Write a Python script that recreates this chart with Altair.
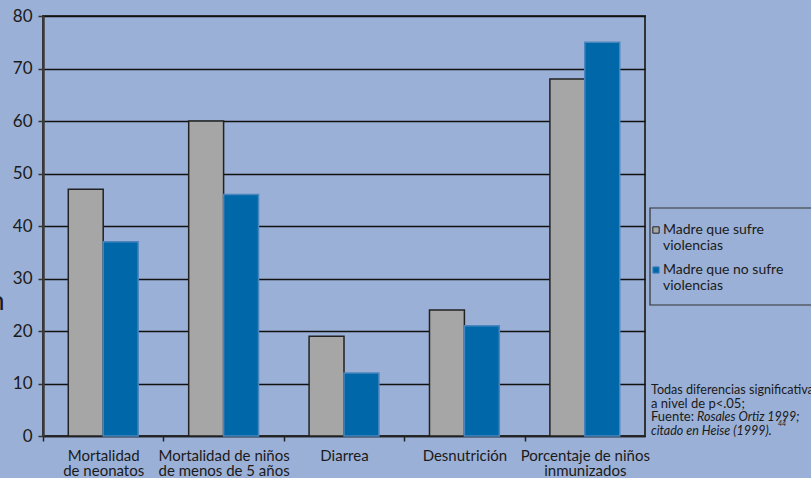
import altair as alt
import pandas as pd

categories = ["Mortalidad|de neonatos", "Mortalidad de niños|de menos de 5 años",
              "Diarrea", "Desnutrición", "Porcentaje de niños|inmunizados"]
madre_sufre = [47, 60, 19, 24, 68]
madre_no_sufre = [37, 46, 12, 21, 75]
series = ["Madre que sufre|violencias", "Madre que no sufre|violencias"]
y_ticks = [0, 10, 20, 30, 40, 50, 60, 70, 80]

rows = []
for c, a, b in zip(categories, madre_sufre, madre_no_sufre):
    rows.append({"cat": c, "serie": series[0], "val": a})
    rows.append({"cat": c, "serie": series[1], "val": b})
df = pd.DataFrame(rows)

FONT = "Lato"
BG = "#9bb0d6"

leg = dict(title=None, orient="none", legendX=606, legendY=207,
           labelExpr="split(datum.label, '|')",
           labelFontSize=14, labelFont=FONT, labelColor="#1a1a1a",
           labelLimit=200,
           symbolType="square", symbolSize=40, symbolStrokeWidth=1,
           strokeColor="transparent", padding=0, rowPadding=10,
           labelOffset=0)

bars = alt.Chart(df).mark_bar(strokeWidth=1.5).encode(
    x=alt.X("cat:N", sort=categories, title=None,
            scale=alt.Scale(paddingInner=0.42, paddingOuter=0.21),
            axis=alt.Axis(labelExpr="split(datum.label, '|')", labelAngle=0,
                          labelFontSize=15, labelColor="#1a1a1a", labelFont=FONT,
                          labelPadding=7, labelLineHeight=15.5,
                          domainColor="#222", domainWidth=1.5,
                          tickColor="#222", tickSize=5, tickWidth=1.5,
                          tickOffset=-60.2, labelOffset=60.2, grid=False)),
    xOffset=alt.XOffset("serie:N", sort=series, scale=alt.Scale(paddingInner=0, paddingOuter=0)),
    y=alt.Y("val:Q", title=None,
            scale=alt.Scale(domain=[0, 80], nice=False),
            axis=alt.Axis(values=y_ticks, labelFontSize=17, labelColor="#1a1a1a", labelFont=FONT,
                          labelPadding=6, tickSize=5, tickColor="#333", tickWidth=1.5,
                          domainColor="#3a3a3a", domainWidth=2.5,
                          grid=True, gridColor="#111", gridWidth=1.5)),
    color=alt.Color("serie:N", sort=series,
                    scale=alt.Scale(domain=series, range=["#a6a6a6", "#0067a9"]),
                    legend=alt.Legend(**leg)),
    stroke=alt.Stroke("serie:N", sort=series,
                      scale=alt.Scale(domain=series, range=["#222222", "#4a86be"]),
                      legend=alt.Legend(**leg)),
)

note_df = pd.DataFrame({"t": [0]})

legend_box = alt.Chart(note_df).mark_rect(
    fill=None, stroke="#333", strokeWidth=1.2
).encode(x=alt.value(607), x2=alt.value(790), y=alt.value(192), y2=alt.value(289))


def txt(text, x, y, italic=False, size=12.5, baseline="middle"):
    return alt.Chart(note_df).mark_text(
        text=text, align="left", baseline=baseline, font=FONT, fontSize=size,
        fontStyle="italic" if italic else "normal", color="#1a1a1a"
    ).encode(x=alt.value(x), y=alt.value(y))

notes = [
    txt("Todas diferencias significativas", 608, 374, size=12.6),
    txt("a nivel de p<.05;", 608, 387.5, size=13),
    txt("Fuente:", 608, 401, size=13),
    txt("Rosales Ortiz 1999;", 654, 401, italic=True),
    txt("citado en Heise (1999).", 608, 414.5, italic=True),
    txt("44", 735, 408, italic=True, size=7),
    txt("n", -53, 286, size=26),
    txt("g", 380, -19, size=16, baseline="alphabetic"),
]

chart = alt.layer(bars, legend_box, *notes).properties(
    width=602, height=420,
    background=BG,
    padding={"left": 43, "top": 16, "right": 166, "bottom": 42},
    autosize=alt.AutoSizeParams(type="none"),
).configure_view(stroke="#333", strokeWidth=2, fill=BG)

chart.save("out.html", embed_options={"renderer": "svg", "actions": False})
